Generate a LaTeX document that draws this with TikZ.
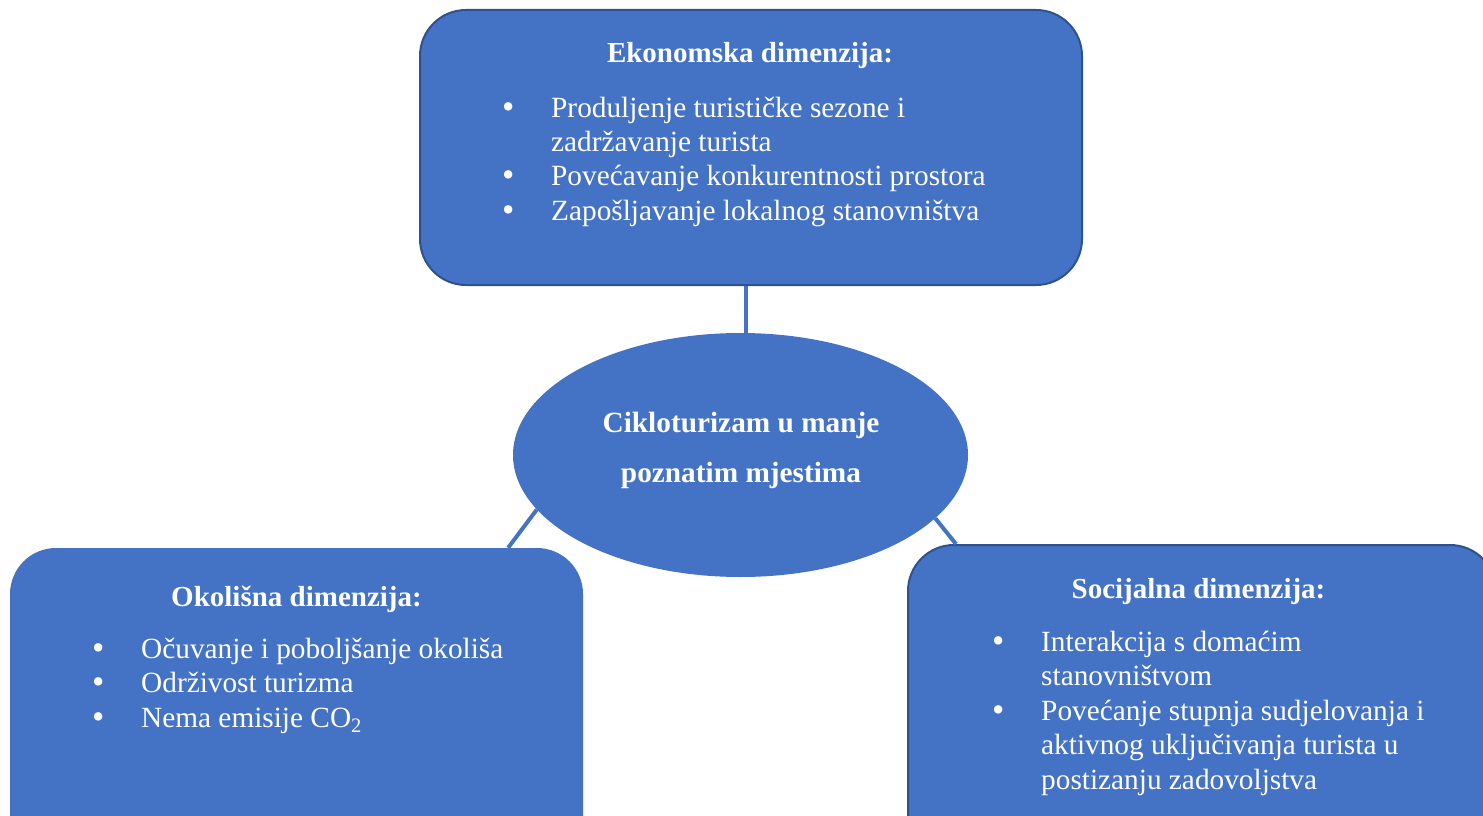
\documentclass[tikz,border=0pt]{standalone}
\usepackage{fontspec}
\setmainfont{Liberation Serif}
\usetikzlibrary{shapes.geometric,calc}
\definecolor{box area}{HTML}{4472C4}
\definecolor{box edge}{HTML}{2F528F}
\tikzset{dimbox/.style={rectangle, rounded corners=46pt, fill=box area, inner sep=0pt},
    edged/.style={draw=box edge, line width=2pt},
    heading/.style={text=white, inner sep=0pt, anchor=base, font=\fontsize{29}{34}\selectfont\bfseries},
    bullets/.style={text=white, inner sep=0pt, anchor=base west, font=\fontsize{29.3}{34.5}\selectfont},
    link/.style={draw=box area, line width=4pt}}
\newcommand{\itemlist}[1]{\begin{tabular}[t]{@{}p{49pt}@{}l@{}}#1\end{tabular}}
\newcommand{\bul}{\smash{\raisebox{-1pt}{\scalebox{1.2}{\textbullet}}}}

\begin{document}
\begin{tikzpicture}[x=1pt, y=-1pt]
    \useasboundingbox (0,0) rectangle (1483,816);
    \clip (0,0) rectangle (1483,816);
    % shapes
    \node[dimbox, edged, minimum width=662pt, minimum height=275pt] (eko) at (751,147.5) {};
    \node[ellipse, fill=box area, inner sep=0pt, minimum width=455pt, minimum height=244pt] (ciklo) at (740.5,455) {};
    \node[dimbox, minimum width=573pt, minimum height=322pt] (okol) at (296.5,709) {};
    \node[dimbox, edged, minimum width=588pt, minimum height=325pt] (soc) at (1202,707.5) {};
    % links
    \coordinate (toplink) at ($(eko.south)!.5!(ciklo.north)$);
    \draw[link] (toplink |- eko.south) -- (toplink |- ciklo.north);
    \draw[link] (ciklo.195) -- ($(okol.north west)!.869!(okol.north east)$);
    \draw[link] (ciklo.342) -- ($(soc.north west)!.083!(soc.north east)$);
    % texts
    \node[heading] (eko-t) at (750,63) {Ekonomska dimenzija:};
    \node[bullets] (eko-l) at (502,117) {\itemlist{%
        \bul & Produljenje turističke sezone i\\
             & zadržavanje turista\\
        \bul & Povećavanje konkurentnosti prostora\\
        \bul & Zapošljavanje lokalnog stanovništva}};
    \node[heading, font=\fontsize{29.3}{50}\selectfont\bfseries] (ciklo-t) at (741,432)
        {\begin{tabular}[t]{@{}c@{}}Cikloturizam u manje\\ poznatim mjestima\end{tabular}};
    \node[heading] (okol-t) at (296.5,606) {Okolišna dimenzija:};
    \node[bullets] (okol-l) at (92,658) {\itemlist{%
        \bul & Očuvanje i poboljšanje okoliša\\
        \bul & Održivost turizma\\
        \bul & Nema emisije CO\textsubscript{2}}};
    \node[heading] (soc-t) at (1198.5,598) {Socijalna dimenzija:};
    \node[bullets] (soc-l) at (992,651) {\itemlist{%
        \bul & Interakcija s domaćim\\
             & stanovništvom\\
        \bul & Povećanje stupnja sudjelovanja i\\
             & aktivnog uključivanja turista u\\
             & postizanju zadovoljstva}};
\end{tikzpicture}
\end{document}
